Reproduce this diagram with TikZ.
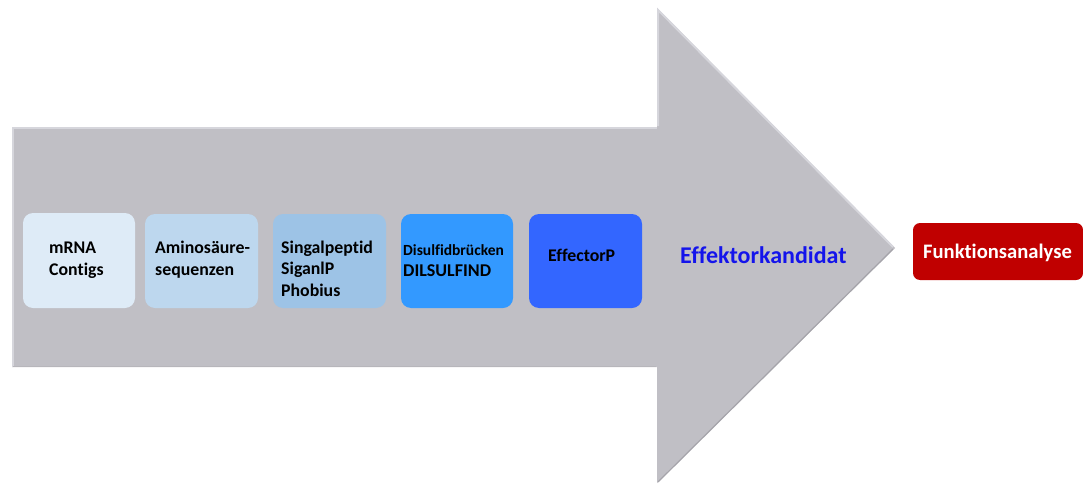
\documentclass[tikz,border=0pt]{standalone}
\usepackage{fontspec}
\setmainfont{Carlito}[Ligatures=NoCommon]
\begin{document}
\begin{tikzpicture}[x=1pt,y=-1pt,
  lbl/.style={anchor=base west,inner sep=0pt,align=left,font=\bfseries\fontsize{17.8}{21.5}\selectfont,text=black}]
\definecolor{arrowgray}{RGB}{192,191,197}
\definecolor{arrowedge}{RGB}{214,214,220}
\definecolor{arrowdark}{RGB}{165,164,170}
\definecolor{boxA}{RGB}{222,235,247}
\definecolor{boxB}{RGB}{189,215,238}
\definecolor{boxC}{RGB}{157,195,230}
\definecolor{boxD}{RGB}{51,153,255}
\definecolor{boxE}{RGB}{51,102,255}
\definecolor{redbox}{RGB}{192,0,0}
\definecolor{candblue}{RGB}{20,20,235}
\useasboundingbox (0,0) rectangle (1083,484);
\fill[white] (0,0) rectangle (1083,484);
% big process arrow
\fill[arrowgray] (12,127) -- (657,127) -- (657,8) -- (895,248) -- (657,483) -- (657,367) -- (12,367) -- cycle;
\draw[arrowedge,line width=2pt] (13,367) -- (13,128) -- (657,128);
\draw[arrowedge,line width=2pt] (658,126) -- (658,10) -- (893,247);
\draw[arrowdark,line width=1.2pt] (893,249) -- (658,482);
\draw[arrowdark!80,line width=1pt] (13,366.5) -- (656,366.5);
% pipeline steps
\fill[boxA,rounded corners=10pt] (23,213) rectangle (135,308);
\fill[boxB,rounded corners=10pt] (145,214) rectangle (258,308);
\fill[boxC,rounded corners=10pt] (273,214) rectangle (386,308);
\fill[boxD,rounded corners=10pt] (401,214) rectangle (513,308);
\fill[boxE,rounded corners=10pt] (529,214) rectangle (642,308);
% labels: anchor is the baseline of the last line
\node[lbl] (t1) at (49,275) {mRNA\\Contigs};
\node[lbl] (t2) at (155,275) {Aminosäure-\\sequenzen};
\node[lbl] (t3) at (281,296) {Singalpeptid\\SiganlP\\Phobius};
\node[lbl,font=\bfseries\fontsize{15.5}{21}\selectfont] (t4) at (403,276) {Disulfidbrücken\\{\fontsize{18}{21}\selectfont DILSULFIND}};
\node[lbl] (t5) at (548,261) {EffectorP};
\node[anchor=base west,inner sep=0pt,text=candblue,font=\bfseries\fontsize{24}{28}\selectfont] (cand) at (680,263) {Effektorkandidat};
% follow-up analysis
\fill[redbox,rounded corners=7pt] (913,223) rectangle (1083,280);
\node[anchor=base west,inner sep=0pt,text=white,font=\bfseries\fontsize{20.6}{24}\selectfont] (func) at (923,258) {Funktionsanalyse};
\end{tikzpicture}
\end{document}
